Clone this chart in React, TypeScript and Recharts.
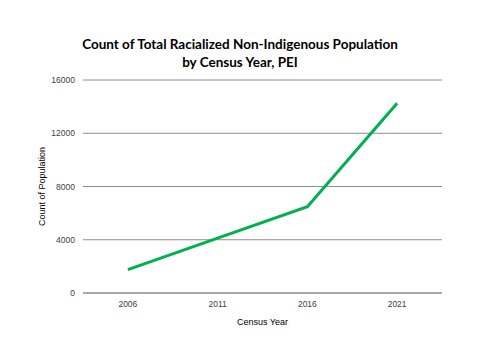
import React from 'react';
import { LineChart, Line, XAxis, YAxis, CartesianGrid } from 'recharts';

const years = ['2006', '2011', '2016', '2021'];
const counts = [1750, 4120, 6480, 14250];
const yTicks = [0, 4000, 8000, 12000, 16000];

const data = years.map((y, i) => ({ year: y, count: counts[i] }));

const tickFont = { fontSize: 8.5, fill: '#404040', fontFamily: '"Liberation Sans", Arial, sans-serif' };
const labelFont = { fontSize: 9, fill: '#000', fontFamily: '"Liberation Sans", Arial, sans-serif' };

export default function App() {
  return (
    <div style={{ position: 'absolute', left: 0, top: 0, width: 480, height: 360, background: '#fff' }}>
      <div
        style={{
          position: 'absolute',
          left: 0,
          top: 35,
          width: 480,
          textAlign: 'center',
          fontFamily: 'Lato, sans-serif',
          fontWeight: 700,
          fontSize: 13.5,
          lineHeight: '18px',
          color: '#000',
        }}
      >
        Count of Total Racialized Non-Indigenous Population
        <br />
        by Census Year, PEI
      </div>
      <LineChart
        width={480}
        height={360}
        data={data}
        margin={{ top: 80, right: 38, bottom: 32, left: 0 }}
        style={{ fontFamily: '"Liberation Sans", Arial, sans-serif' }}
      >
        <CartesianGrid horizontal vertical={false} stroke="#8c8c8c" />
        <XAxis
          dataKey="year"
          scale="band"
          height={35}
          tickLine={false}
          axisLine={{ stroke: '#8c8c8c' }}
          tick={tickFont}
          label={{ value: 'Census Year', position: 'insideBottom', offset: 3, ...labelFont }}
        />
        <YAxis
          width={83}
          domain={[0, 16000]}
          ticks={yTicks}
          tickLine={false}
          axisLine={false}
          tick={tickFont}
          label={{ value: 'Count of Population', angle: -90, position: 'center', ...labelFont }}
        />
        <Line
          type="linear"
          dataKey="count"
          stroke="#00B050"
          strokeWidth={3}
          dot={false}
          isAnimationActive={false}
        />
      </LineChart>
    </div>
  );
}
